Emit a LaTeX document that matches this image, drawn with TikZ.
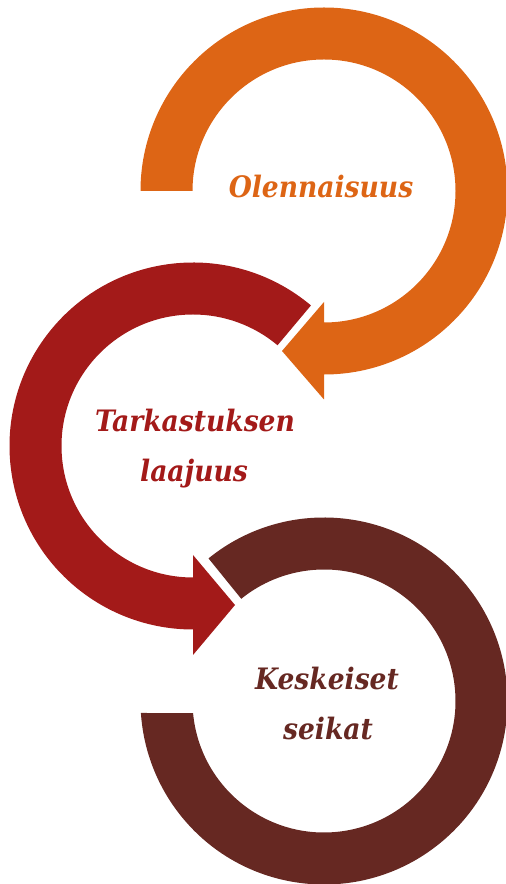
\documentclass[tikz,border=0pt]{standalone}
\usepackage{fontspec}
\setmainfont{DejaVu Serif Condensed}
\definecolor{cOrange}{RGB}{221,101,21}
\definecolor{cRed}{RGB}{163,26,25}
\definecolor{cBrown}{RGB}{102,40,34}
\tikzset{
  lbl/.style={anchor=base, inner sep=0pt, font=\fontsize{29.5}{34}\selectfont\bfseries\itshape},
}
\begin{document}
\begin{tikzpicture}[x=1pt,y=1pt]
\useasboundingbox (0,0) rectangle (506,884);
% orange ring
\begin{scope}[shift={(324,693)}]
\fill[cOrange] (180:183.5pt) arc[start angle=180,end angle=-90,radius=183.5pt]
  -- (0,-208.5) -- (-42,-160) -- (0,-111) -- (0,-131.5)
  arc[start angle=-90,end angle=180,radius=131.5pt] -- cycle;
\end{scope}
% red ring
\begin{scope}[shift={(193,438)}]
\fill[cRed] (50:183.5pt) arc[start angle=50,end angle=270,radius=183.5pt]
  -- (0,-209) -- (42,-159) -- (0,-109) -- (0,-131.5)
  arc[start angle=270,end angle=50,radius=131.5pt] -- cycle;
\end{scope}
% brown ring
\begin{scope}[shift={(324,183)}]
\fill[cBrown] (129:183.5pt) arc[start angle=129,end angle=-176.25,radius=183.5pt]
  -- (-174.76:131.5pt) arc[start angle=-174.76,end angle=129,radius=131.5pt] -- cycle;
\end{scope}
\node[lbl, text=cOrange] (t1) at (321,686) {Olennaisuus};
\node[lbl, text=cRed] (t2a) at (195,452) {Tarkastuksen};
\node[lbl, text=cRed] (t2b) at (194,402) {laajuus};
\node[lbl, text=cBrown] (t3a) at (327,194) {Keskeiset};
\node[lbl, text=cBrown] (t3b) at (328,144) {seikat};
\end{tikzpicture}
\end{document}
